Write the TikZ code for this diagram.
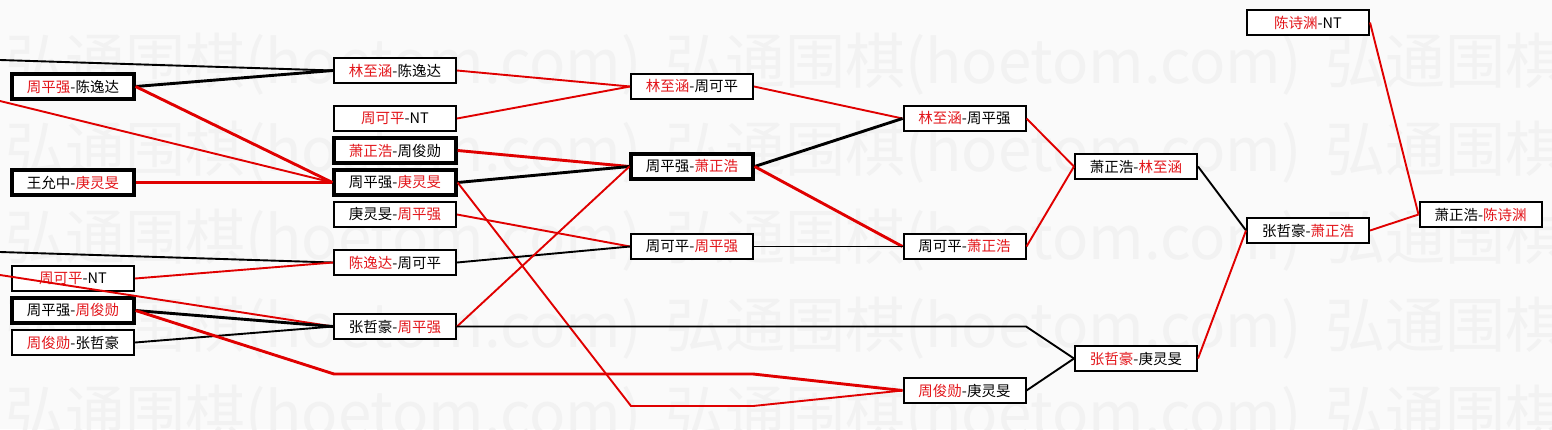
\documentclass[tikz,border=0pt]{standalone}
\usepackage{fontspec}
\newfontfamily\cjk{Noto Sans CJK SC}
\usepackage{xcolor}
\definecolor{winColor}{HTML}{E3161B}
\definecolor{lineRed}{HTML}{E00000}
\definecolor{markColor}{HTML}{F2F2F2}
\definecolor{bgColor}{HTML}{FAFAFA}
\newcommand{\winName}[1]{\textcolor{winColor}{#1}}
\usepackage{tikz}

\begin{document}
\begin{tikzpicture}[x=1pt, y=-1pt, font=\cjk,
    game/.style={draw=black, line width=2pt, fill=white, minimum width=122pt, minimum height=25pt, inner sep=0pt, font=\cjk\fontsize{14.5}{15}\selectfont},
    keygame/.style={game, line width=3.2pt},
    won/.style={draw=lineRed, line width=1.9pt},
    lost/.style={draw=black, line width=1.9pt},
    heavy/.style={line width=2.9pt},
    watermark/.style={anchor=west, inner sep=0pt, text=markColor, font=\cjk\fontsize{60}{60}\selectfont}]
        % Page (1552 x 429)
        \useasboundingbox (0,0) rectangle (1552,429);
        \fill[bgColor] (0,0) rectangle (1552,429);

        % Watermark rows
        \begin{scope}
            \clip (0,0) rectangle (1552,429);
            \foreach \row in {0,...,4}
                \foreach \col in {0,1,2}
                    \node[watermark] (wm\row\col) at (5+660*\col, 64+88*\row) {弘通围棋(hoetom.com)};
        \end{scope}

        % Round 1 (left column)
        \node[keygame] (a1) at (73, 86.5) {\winName{周平强}-陈逸达};
        \node[keygame] (a2) at (73, 182.5) {王允中-\winName{庚灵旻}};
        \node[game] (a3) at (73, 278.5) {\winName{周可平}-NT};
        \node[keygame] (a4) at (73, 310.5) {周平强-\winName{周俊勋}};
        \node[game] (a5) at (73, 342.5) {\winName{周俊勋}-张哲豪};

        % Round 2
        \node[game] (b1) at (395, 70.5) {\winName{林至涵}-陈逸达};
        \node[game] (b2) at (395, 118.5) {\winName{周可平}-NT};
        \node[keygame] (b3) at (395, 150.5) {\winName{萧正浩}-周俊勋};
        \node[keygame] (b4) at (395, 182.5) {周平强-\winName{庚灵旻}};
        \node[game] (b5) at (395, 214.5) {庚灵旻-\winName{周平强}};
        \node[game] (b6) at (395, 262.5) {\winName{陈逸达}-周可平};
        \node[game] (b7) at (395, 326.5) {张哲豪-\winName{周平强}};

        % Round 3
        \node[game] (c1) at (692, 86.5) {\winName{林至涵}-周可平};
        \node[keygame] (c2) at (692, 166.5) {周平强-\winName{萧正浩}};
        \node[game] (c3) at (692, 246.5) {周可平-\winName{周平强}};

        % Round 4
        \node[game] (d1) at (964.5, 118.5) {\winName{林至涵}-周平强};
        \node[game] (d2) at (964.5, 246.5) {周可平-\winName{萧正浩}};
        \node[game] (d3) at (964.5, 390.5) {\winName{周俊勋}-庚灵旻};

        % Round 5 to final
        \node[game] (e1) at (1136, 166.5) {萧正浩-\winName{林至涵}};
        \node[game] (e2) at (1136, 358.5) {\winName{张哲豪}-庚灵旻};
        \node[game] (f1) at (1308, 22.5) {\winName{陈诗渊}-NT};
        \node[game] (f2) at (1308, 230.5) {张哲豪-\winName{萧正浩}};
        \node[game] (g1) at (1480.5, 214.5) {萧正浩-\winName{陈诗渊}};

        % Lines coming in from off the left edge
        \coordinate (in1) at (0, 60);
        \coordinate (in2) at (0, 101);
        \coordinate (in3) at (0, 252);
        \coordinate (in4) at (0, 275);
        % Bends of the long lines
        \coordinate (k1) at (334, 374);
        \coordinate (k2) at (753, 374);
        \coordinate (k3) at (631, 406);
        \coordinate (k4) at (753, 406);
        \coordinate (k5) at (1026, 326.5);

        % Into round 2
        \draw[lost] (in1) -- (b1.west);
        \draw[lost, heavy] (a1.east) -- (b1.west);
        \draw[won, heavy] (a1.east) -- (b4.west);
        \draw[won] (in2) -- (b4.west);
        \draw[won, heavy] (a2.east) -- (b4.west);
        \draw[lost] (in3) -- (b6.west);
        \draw[won] (a3.east) -- (b6.west);
        \draw[won] (in4) -- (b7.west);
        \draw[lost, heavy] (a4.east) -- (b7.west);
        \draw[lost] (a5.east) -- (b7.west);
        \draw[won, heavy] (a4.east) -- (k1) -- (k2) -- (d3.west);

        % Into round 3
        \draw[won] (b1.east) -- (c1.west);
        \draw[won] (b2.east) -- (c1.west);
        \draw[won, heavy] (b3.east) -- (c2.west);
        \draw[lost, heavy] (b4.east) -- (c2.west);
        \draw[won] (b4.east) -- (k3) -- (k4) -- (d3.west);
        \draw[won] (b5.east) -- (c3.west);
        \draw[lost] (b6.east) -- (c3.west);
        \draw[won] (b7.east) -- (c2.west);
        \draw[lost] (b7.east) -- (k5) -- (e2.west);

        % Into round 4
        \draw[won] (c1.east) -- (d1.west);
        \draw[lost, heavy] (c2.east) -- (d1.west);
        \draw[won, heavy] (c2.east) -- (d2.west);
        \draw[lost] (c3.east) -- (d2.west);

        % Into round 5 and the final
        \draw[won] (d1.east) -- (e1.west);
        \draw[won] (d2.east) -- (e1.west);
        \draw[lost] (d3.east) -- (e2.west);
        \draw[lost] (e1.east) -- (f2.west);
        \draw[won] (e2.east) -- (f2.west);
        \draw[won] (f1.east) -- (g1.west);
        \draw[won] (f2.east) -- (g1.west);
    \end{tikzpicture}
\end{document}
